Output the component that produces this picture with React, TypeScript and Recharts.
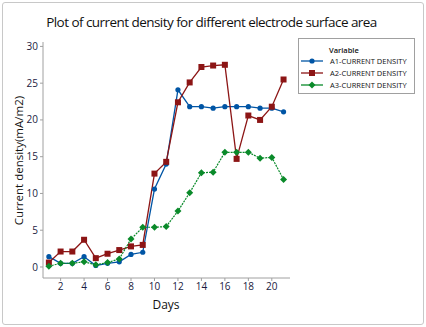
import React from "react";
import { LineChart, Line, XAxis, YAxis } from "recharts";

const days = [1, 2, 3, 4, 5, 6, 7, 8, 9, 10, 11, 12, 13, 14, 15, 16, 17, 18, 19, 20, 21];
const a1 = [1.4, 0.5, 0.5, 1.4, 0.2, 0.5, 0.7, 1.7, 2.0, 10.6, 14.0, 24.1, 21.8, 21.8, 21.6, 21.8, 21.8, 21.8, 21.6, 21.6, 21.1];
const a2 = [0.6, 2.1, 2.1, 3.7, 1.2, 1.8, 2.3, 2.8, 3.0, 12.7, 14.3, 22.4, 25.1, 27.2, 27.4, 27.5, 14.7, 20.6, 20.0, 21.8, 25.5];
const a3 = [0.1, 0.5, 0.5, 0.7, 0.3, 0.6, 1.1, 3.8, 5.4, 5.4, 5.5, 7.6, 10.1, 12.8, 12.9, 15.6, 15.6, 15.6, 14.8, 14.9, 11.9];
const xTicks = [2, 4, 6, 8, 10, 12, 14, 16, 18, 20];
const yTicks = [0, 5, 10, 15, 20, 25, 30];

const BLUE = "#0055a5";
const RED = "#8c1515";
const GREEN = "#0a8a2a";
const FONT = "'Open Sans', 'DejaVu Sans', sans-serif";

const data = days.map((d, i) => ({ day: d, a1: a1[i], a2: a2[i], a3: a3[i] }));

const Square = (props: any) => {
  const { cx, cy } = props;
  return <rect x={cx - 3} y={cy - 3} width={6} height={6} fill={RED} />;
};
const Diamond = (props: any) => {
  const { cx, cy } = props;
  return (
    <path
      d={`M${cx},${cy - 3.5} L${cx + 3.5},${cy} L${cx},${cy + 3.5} L${cx - 3.5},${cy} Z`}
      fill={GREEN}
    />
  );
};
const Dot = (props: any) => {
  const { cx, cy } = props;
  return <circle cx={cx} cy={cy} r={2.6} fill={BLUE} />;
};

const tickStyle = { fontSize: 10, fill: "#1a1a40", fontFamily: FONT };

const legendItems = [
  { name: "A1-CURRENT DENSITY", color: BLUE, shape: "dot" },
  { name: "A2-CURRENT DENSITY", color: RED, shape: "square" },
  { name: "A3-CURRENT DENSITY", color: GREEN, shape: "diamond" },
];

export default function App() {
  return (
    <div
      style={{
        position: "absolute",
        left: 0,
        top: 0,
        width: 426,
        height: 327,
        background: "#fff",
        fontFamily: FONT,
      }}
    >
      <div
        style={{
          position: "absolute",
          left: 2,
          top: 2,
          width: 420,
          height: 321,
          border: "1px solid #c8c8c8",
          borderRadius: 3,
        }}
      />
      <div
        style={{
          position: "absolute",
          left: 0,
          top: 13,
          width: 423,
          textAlign: "center",
          fontSize: 13.5,
          color: "#111",
          letterSpacing: -0.55,
        }}
      >
        Plot of current density for different electrode surface area
      </div>
      <div
        style={{
          position: "absolute",
          left: 18 - 80,
          top: 161 - 8,
          width: 160,
          textAlign: "center",
          fontSize: 11.5,
          color: "#111",
          transform: "rotate(-90deg)",
        }}
      >
        Current density(mA/m2)
      </div>
      <div
        style={{
          position: "absolute",
          left: 146,
          top: 296,
          width: 40,
          textAlign: "center",
          fontSize: 12,
          color: "#111",
        }}
      >
        Days
      </div>

      <div style={{ position: "absolute", left: 0, top: 0 }}>
        <LineChart
          width={426}
          height={327}
          data={data}
          margin={{ top: 42, right: 136, left: 18, bottom: 19 }}
        >
          <XAxis
            xAxisId="top"
            orientation="top"
            dataKey="day"
            type="number"
            domain={[0.5, 21.55]}
            tick={false}
            tickLine={false}
            height={0}
            stroke="#a0a0a0"
          />
          <YAxis
            yAxisId="right"
            orientation="right"
            type="number"
            domain={[-1.5, 30.6]}
            tick={false}
            tickLine={false}
            width={0}
            stroke="#a0a0a0"
          />
          <XAxis
            dataKey="day"
            type="number"
            domain={[0.5, 21.55]}
            ticks={xTicks}
            tick={tickStyle}
            tickSize={3}
            height={30}
            stroke="#a0a0a0"
            allowDataOverflow
          />
          <YAxis
            type="number"
            domain={[-1.5, 30.6]}
            ticks={yTicks}
            tick={tickStyle}
            tickSize={3}
            width={25}
            stroke="#a0a0a0"
            allowDataOverflow
          />
          <Line
            dataKey="a1"
            stroke={BLUE}
            strokeWidth={1.3}
            dot={<Dot />}
            activeDot={false}
            isAnimationActive={false}
          />
          <Line
            dataKey="a2"
            stroke={RED}
            strokeWidth={1.3}
            dot={<Square />}
            activeDot={false}
            isAnimationActive={false}
          />
          <Line
            dataKey="a3"
            stroke={GREEN}
            strokeWidth={1.2}
            strokeDasharray="2 1"
            dot={<Diamond />}
            activeDot={false}
            isAnimationActive={false}
          />
        </LineChart>
      </div>

      <div
        style={{
          position: "absolute",
          left: 298,
          top: 38,
          width: 115,
          height: 54,
          border: "1px solid #a0a0a0",
          fontSize: 7.5,
          color: "#111",
        }}
      >
        <div style={{ position: "absolute", left: 30, top: 6, fontWeight: 600 }}>
          Variable
        </div>
        {legendItems.map((it, i) => (
          <div
            key={it.name}
            style={{ position: "absolute", left: 2, top: 17 + i * 12, height: 10, width: 112 }}
          >
            <svg width={22} height={10} style={{ position: "absolute", left: 0, top: 0 }}>
              <line x1={0} y1={5} x2={22} y2={5} stroke={it.color} strokeWidth={1.3} />
              {it.shape === "dot" && <circle cx={11} cy={5} r={2.6} fill={it.color} />}
              {it.shape === "square" && <rect x={8} y={2} width={6} height={6} fill={it.color} />}
              {it.shape === "diamond" && (
                <path d="M11,1.5 L14.5,5 L11,8.5 L7.5,5 Z" fill={it.color} />
              )}
            </svg>
            <span style={{ position: "absolute", left: 29, top: 0, lineHeight: "10px", whiteSpace: "nowrap" }}>
              {it.name}
            </span>
          </div>
        ))}
      </div>
    </div>
  );
}
